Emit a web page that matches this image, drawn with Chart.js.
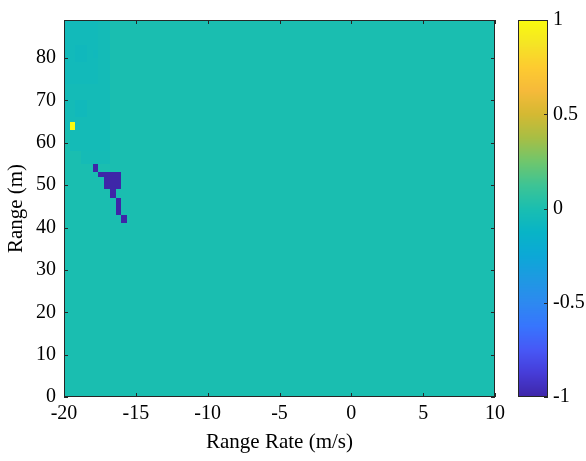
<!DOCTYPE html>
<html>
<head>
<meta charset="utf-8">
<script src="https://cdn.jsdelivr.net/npm/chart.js"></script>
<style>
  html, body { margin: 0; padding: 0; background: #fff; }
  #wrap { width: 586px; height: 461px; }
</style>
</head>
<body>
<div id="wrap"><canvas id="map"></canvas></div>
<script>
// axes
const rateTicks = [-20, -15, -10, -5, 0, 5, 10];
const rangeTicks = [0, 10, 20, 30, 40, 50, 60, 70, 80];
const colorTicks = [-1, -0.5, 0, 0.5, 1];
const rateLimits = [-20, 10];
const rangeLimits = [0, 89];
const rateBin = 0.4;   // m/s per cell
const rangeBin = 1;    // m per cell

// non-zero patches of the map (m/s, m), later entries win
const cellRateFrom  = [-20,   -19.6, -18.8,  -20,    -19.2, -18.0,  -19.2, -18.0, -17.6, -17.2, -16.8, -16.4, -16.0, -19.6];
const cellRateTo    = [-16.8, -16.8, -16.8,  -17.6,  -18.4, -17.6,  -18.4, -17.6, -16.0, -16.0, -16.4, -16.0, -15.6, -19.2];
const cellRangeFrom = [63,    58,    55,     74,     79,    80,     66,    53,    52,    49,    47,    43,    41,    63];
const cellRangeTo   = [89,    63,    58,     89,     83,    82,     70,    55,    53,    52,    49,    47,    43,    65];
const cellValue     = [-0.04, -0.04, -0.035, -0.055, -0.07, -0.065, -0.06, -1,    -1,    -1,    -1,    -1,    -1,    1];

const FONT = "'Liberation Serif', 'Times New Roman', serif";
const INK = '#262626';

// parula-like colormap
const parulaStops = [
  [0.000, [62, 38, 168]],
  [0.063, [70, 60, 216]],
  [0.125, [71, 88, 246]],
  [0.188, [55, 117, 253]],
  [0.250, [45, 137, 240]],
  [0.313, [30, 153, 226]],
  [0.375, [12, 168, 214]],
  [0.438, [8, 180, 198]],
  [0.500, [26, 190, 176]],
  [0.563, [62, 196, 148]],
  [0.625, [112, 198, 108]],
  [0.688, [168, 190, 68]],
  [0.750, [212, 185, 50]],
  [0.813, [246, 186, 58]],
  [0.875, [253, 203, 48]],
  [0.938, [245, 229, 36]],
  [1.000, [249, 251, 14]]
];

function parula(v) {
  let t = Math.min(1, Math.max(0, (v + 1) / 2));
  for (let i = 1; i < parulaStops.length; i++) {
    const [t1, c1] = parulaStops[i];
    const [t0, c0] = parulaStops[i - 1];
    if (t <= t1) {
      const f = (t - t0) / (t1 - t0);
      const c = c0.map((a, k) => Math.round(a + (c1[k] - a) * f));
      return `rgb(${c[0]},${c[1]},${c[2]})`;
    }
  }
  return 'rgb(249,251,14)';
}

function valueAt(rate, range) {
  let v = 0;
  for (let i = 0; i < cellValue.length; i++) {
    if (rate >= cellRateFrom[i] && rate < cellRateTo[i] &&
        range >= cellRangeFrom[i] && range < cellRangeTo[i]) v = cellValue[i];
  }
  return v;
}

const heatmap = {
  id: 'heatmap',
  beforeDatasetsDraw(chart) {
    const { ctx, scales: { x, y } } = chart;
    const nx = Math.round((rateLimits[1] - rateLimits[0]) / rateBin);
    const ny = Math.round((rangeLimits[1] - rangeLimits[0]) / rangeBin);
    ctx.save();
    for (let i = 0; i < nx; i++) {
      const r0 = rateLimits[0] + i * rateBin;
      const px0 = Math.round(x.getPixelForValue(r0));
      const px1 = Math.round(x.getPixelForValue(r0 + rateBin));
      for (let j = 0; j < ny; j++) {
        const g0 = rangeLimits[0] + j * rangeBin;
        const py0 = Math.round(y.getPixelForValue(g0 + rangeBin));
        const py1 = Math.round(y.getPixelForValue(g0));
        ctx.fillStyle = parula(valueAt(r0 + rateBin / 2, g0 + rangeBin / 2));
        ctx.fillRect(px0, py0, px1 - px0, py1 - py0);
      }
    }
    ctx.restore();
  },
  afterDraw(chart) {
    const { ctx, chartArea: a, scales: { x, y } } = chart;
    ctx.save();
    // box and inner ticks
    ctx.strokeStyle = INK;
    ctx.lineWidth = 1;
    const L = Math.round(a.left), R = Math.round(a.right), T = Math.round(a.top), B = Math.round(a.bottom);
    ctx.strokeRect(L + 0.5, T + 0.5, R - L - 1, B - T - 1);
    ctx.beginPath();
    rateTicks.forEach(v => {
      const px = Math.round(x.getPixelForValue(v)) + 0.5;
      ctx.moveTo(px, B); ctx.lineTo(px, B - 4);
      ctx.moveTo(px, T); ctx.lineTo(px, T + 4);
    });
    rangeTicks.forEach(v => {
      const py = Math.round(y.getPixelForValue(v)) + 0.5;
      ctx.moveTo(L, py); ctx.lineTo(L + 4, py);
      ctx.moveTo(R, py); ctx.lineTo(R - 4, py);
    });
    ctx.stroke();

    // colorbar
    const cbL = R + 23, cbR = R + 53, cbT = T, cbB = B;
    const cbPix = v => cbB - (v + 1) / 2 * (cbB - cbT);
    for (let py = cbT; py < cbB; py++) {
      const v = 1 - 2 * (py + 0.5 - cbT) / (cbB - cbT);
      ctx.fillStyle = parula(v);
      ctx.fillRect(cbL, py, cbR - cbL, 1);
    }
    ctx.strokeStyle = INK;
    ctx.strokeRect(cbL + 0.5, cbT + 0.5, cbR - cbL - 1, cbB - cbT - 1);
    ctx.fillStyle = '#000';
    ctx.font = `20px ${FONT}`;
    ctx.textAlign = 'left';
    ctx.textBaseline = 'middle';
    ctx.beginPath();
    colorTicks.forEach(v => {
      const py = Math.round(cbPix(v)) + 0.5;
      ctx.moveTo(cbR - 4, py); ctx.lineTo(cbR, py);
      ctx.fillText(String(v), cbR + 5, cbPix(v));
    });
    ctx.stroke();
    ctx.restore();
  }
};

new Chart(document.getElementById('map'), {
  type: 'scatter',
  data: { datasets: [] },
  plugins: [heatmap],
  options: {
    responsive: true,
    maintainAspectRatio: false,
    animation: false,
    devicePixelRatio: 1,
    layout: { padding: { left: 0, right: 91, top: 10, bottom: 0 } },
    plugins: { legend: { display: false }, tooltip: { enabled: false } },
    scales: {
      x: {
        type: 'linear',
        min: rateLimits[0],
        max: rateLimits[1],
        afterBuildTicks: s => { s.ticks = rateTicks.map(v => ({ value: v })); },
        afterFit: s => { s.height = 64; },
        grid: { display: false, drawTicks: false },
        border: { display: false },
        ticks: { color: '#000', padding: 5, maxRotation: 0, font: { family: FONT, size: 20 } },
        title: { display: true, text: 'Range Rate (m/s)', color: '#000', padding: { top: 0, bottom: 6 }, font: { family: FONT, size: 21 } }
      },
      y: {
        type: 'linear',
        min: rangeLimits[0],
        max: rangeLimits[1],
        afterBuildTicks: s => { s.ticks = rangeTicks.map(v => ({ value: v })); },
        afterFit: s => { s.width = 64; },
        grid: { display: false, drawTicks: false },
        border: { display: false },
        ticks: { color: '#000', padding: 8, font: { family: FONT, size: 20 } },
        title: { display: true, text: 'Range (m)', color: '#000', padding: { top: 4, bottom: 0 }, font: { family: FONT, size: 21 } }
      }
    }
  }
});
</script>
</body>
</html>
